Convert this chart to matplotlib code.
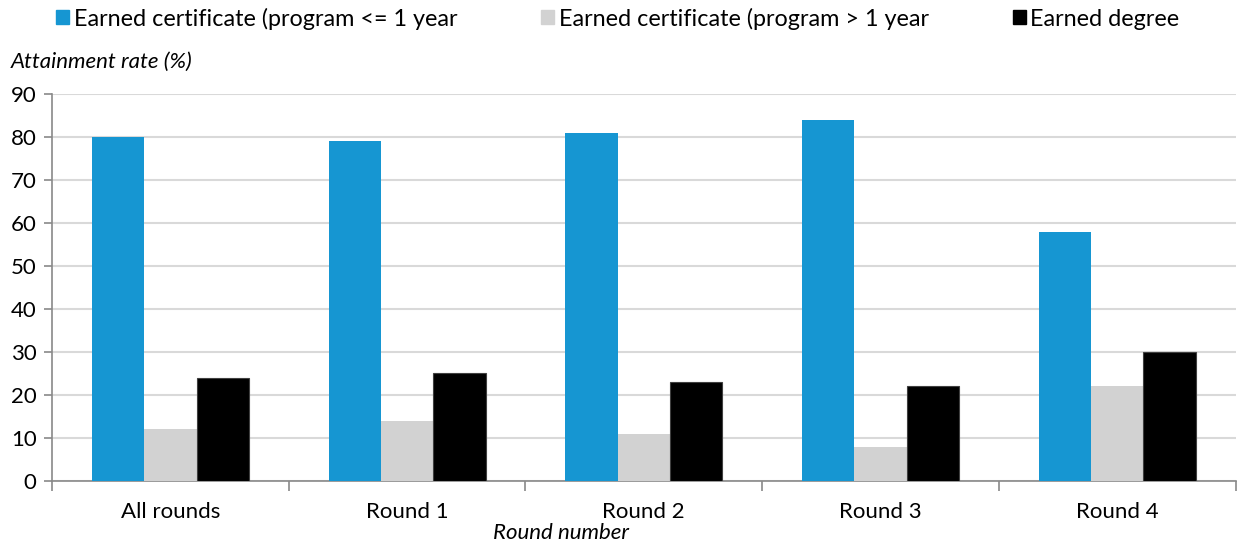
import numpy as np
import matplotlib.pyplot as plt
from matplotlib.patches import Patch

plt.rcParams['font.family'] = ['Lato', 'DejaVu Sans']

rounds = ['All rounds', 'Round 1', 'Round 2', 'Round 3', 'Round 4']
cert_short = [80, 79, 81, 84, 58]
cert_long = [12, 14, 11, 8, 22]
degree = [24, 25, 23, 22, 30]

labels = ['Earned certificate (program <= 1 year',
          'Earned certificate (program > 1 year',
          'Earned degree']
colors = ['#1696d2', '#d2d2d2', '#000000']

fig = plt.figure(figsize=(12.38, 5.47), dpi=100)
ax = fig.add_axes([0.042, 0.1207, 0.956, 0.7075])

x = np.arange(len(rounds))
w = 0.221
ax.bar(x - w, cert_short, w, color=colors[0], zorder=3)
ax.bar(x, cert_long, w, color=colors[1], zorder=3)
ax.bar(x + w, degree, w, color=colors[2], edgecolor='#404040', linewidth=0.8, zorder=3)

ax.set_xlim(-0.5, 4.5)
ax.set_ylim(0, 90)
ax.set_yticks(range(0, 91, 10))
ax.yaxis.grid(True, color='#d9d9d9', linewidth=1.5, zorder=0)
ax.set_axisbelow(True)

# category boundaries as major ticks, labels on minor ticks
ax.set_xticks(np.arange(-0.5, 5, 1))
ax.set_xticklabels([])
ax.set_xticks(x, minor=True)
ax.set_xticklabels(rounds, minor=True)
ax.tick_params(axis='x', which='major', length=7, color='#898989', width=1.2)
ax.tick_params(axis='x', which='minor', length=0, pad=15, labelsize=16)
ax.tick_params(axis='y', length=6, color='#898989', width=1.2, labelsize=16, pad=5)

for s in ['top', 'right']:
    ax.spines[s].set_visible(False)
for s in ['left', 'bottom']:
    ax.spines[s].set_color('#898989')
    ax.spines[s].set_linewidth(1.2)

fig.text(0.009, 0.887, 'Attainment rate (%)', style='italic', fontsize=16, va='center')
fig.text(0.453, 0.026, 'Round number', style='italic', fontsize=16, ha='center', va='center')

handles = [Patch(color=c) for c in colors]
fig.legend(handles, labels, loc='center', bbox_to_anchor=(0.499, 0.966), ncol=3,
           frameon=False, fontsize=16.8, handlelength=0.55, handleheight=0.55,
           handletextpad=0.2, columnspacing=3.6)

fig.savefig('out.png', dpi=100)
